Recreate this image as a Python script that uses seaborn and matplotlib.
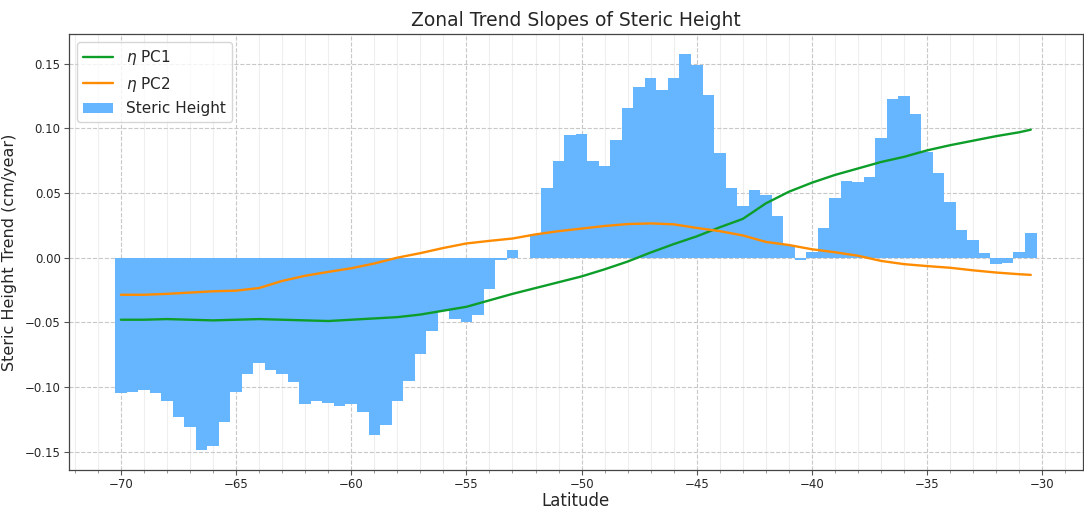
import numpy as np
import matplotlib
matplotlib.use("Agg")
import matplotlib.pyplot as plt
from matplotlib.ticker import MultipleLocator
import seaborn as sns
import pandas as pd

# Zonal-mean steric height trend, 0.5-degree latitude bins
bar_lat = np.arange(-70.0, -30.25, 0.5)
steric_trend = [
    -0.105, -0.104, -0.1025, -0.105, -0.1106, -0.123, -0.131, -0.149, -0.1457, -0.1268,
    -0.1037, -0.0902, -0.0812, -0.0866, -0.0902, -0.096, -0.1134, -0.111, -0.1127, -0.1145,
    -0.113, -0.119, -0.1375, -0.1293, -0.1106, -0.0953, -0.0748, -0.0568, -0.0415, -0.0474,
    -0.0497, -0.0446, -0.0241, -0.0018, 0.0058, 0.0, 0.018, 0.054, 0.0744, 0.0949,
    0.0954, 0.0744, 0.0711, 0.0908, 0.1159, 0.132, 0.1391, 0.1299, 0.1391, 0.1575,
    0.1494, 0.126, 0.0811, 0.054, 0.0396, 0.0527, 0.0488, 0.032, 0.010, -0.002,
    0.0046, 0.0233, 0.046, 0.0596, 0.0583, 0.0621, 0.0923, 0.123, 0.1248, 0.1113,
    0.0821, 0.0652, 0.0427, 0.0217, 0.0136, 0.0038, -0.0051, -0.0043, 0.0046, 0.0187,
]

# Zonal trend slopes of the first two principal components
line_lat = list(np.arange(-70.0, -30.5, 1.0)) + [-30.5]
eta_pc1 = [
    -0.048, -0.048, -0.0475, -0.048, -0.0485, -0.048, -0.0475, -0.048, -0.0485, -0.049,
    -0.048, -0.047, -0.046, -0.044, -0.041, -0.038, -0.033, -0.028, -0.0235, -0.019,
    -0.0145, -0.009, -0.003, 0.004, 0.0105, 0.0165, 0.0235, 0.030, 0.042, 0.051,
    0.058, 0.064, 0.069, 0.074, 0.078, 0.083, 0.087, 0.0905, 0.094, 0.097, 0.099,
]
eta_pc2 = [
    -0.0287, -0.0287, -0.028, -0.027, -0.026, -0.0255, -0.0235, -0.018, -0.014, -0.011,
    -0.0082, -0.0045, 0.0, 0.0035, 0.0075, 0.011, 0.013, 0.0148, 0.018, 0.0205,
    0.0225, 0.0245, 0.026, 0.0265, 0.0258, 0.023, 0.0205, 0.0172, 0.0122, 0.0098,
    0.0065, 0.0042, 0.0015, -0.0025, -0.005, -0.0065, -0.0078, -0.0098, -0.0115, -0.0128,
    -0.0133,
]

sns.set_style("ticks")
plt.rcParams["font.family"] = ["DejaVu Sans"]

fig = plt.figure(figsize=(10.84, 5.11), dpi=100)
ax = fig.add_axes([0.0637, 0.080, 0.935, 0.853])

ax.bar(bar_lat, steric_trend, width=0.5, color="#66b5ff", linewidth=0,
       label="Steric Height", zorder=2)

lines = pd.DataFrame({"lat": line_lat, "pc1": eta_pc1, "pc2": eta_pc2})
sns.lineplot(data=lines, x="lat", y="pc1", ax=ax, color="#0d9e2a", linewidth=1.7,
             label=r"$\eta$ PC1", zorder=3)
sns.lineplot(data=lines, x="lat", y="pc2", ax=ax, color="#ff8c00", linewidth=1.7,
             label=r"$\eta$ PC2", zorder=3)

ax.xaxis.set_major_locator(MultipleLocator(5))
ax.xaxis.set_minor_locator(MultipleLocator(1))
ax.yaxis.set_major_locator(MultipleLocator(0.05))
ax.set_axisbelow(True)
ax.grid(which="major", linestyle="--", color="#c8c8c8", linewidth=0.8)
ax.grid(which="minor", axis="x", linestyle="-", color="#eeeeee", linewidth=0.8)
ax.tick_params(axis="both", which="major", labelsize=8.5, length=3.5, pad=2.5,
               color="#555555")
ax.tick_params(axis="x", which="minor", length=2, color="#888888")
for s in ax.spines.values():
    s.set_color("#444444")
    s.set_linewidth(0.9)

ax.set_title("Zonal Trend Slopes of Steric Height", fontsize=13.5)
ax.set_xlabel("Latitude", fontsize=12, labelpad=0.5)
ax.set_ylabel("Steric Height Trend (cm/year)", fontsize=11.5, labelpad=6)
ax.legend(loc="upper left", fontsize=11, handlelength=2.0)

fig.savefig("out.png", dpi=100)
